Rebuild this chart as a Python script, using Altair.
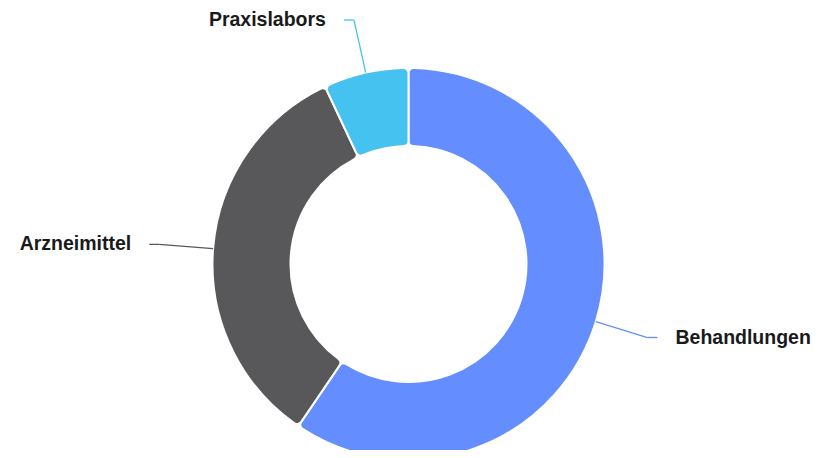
import altair as alt
import pandas as pd

categories = ["Behandlungen", "Arzneimittel", "Praxislabors"]
values = [59.5, 33.5, 7.0]
order = [1, 2, 3]
colors = ["#648EFF", "#58585A", "#45C2F0"]

df = pd.DataFrame({"cat": categories, "val": values, "ord": order})

W, H = 806, 442
CX, CY = 400.5, 256
R_OUT, R_IN, R_LINE, HOOK, GAP = 196, 118, 250, 10, 18

color = alt.Color("cat:N", scale=alt.Scale(domain=categories, range=colors), legend=None)

arcs = alt.Chart(df).mark_arc(
    outerRadius=R_OUT, innerRadius=R_IN, cornerRadius=5, stroke="white", strokeWidth=2
).encode(
    theta=alt.Theta("val:Q", stack=True),
    order=alt.Order("ord:Q"),
    color=color,
    x=alt.value(CX),
    y=alt.value(CY),
)

xs = alt.Scale(domain=[-CX, W - CX], nice=False, zero=False)
ys = alt.Scale(domain=[-(H - CY), CY], nice=False, zero=False)

base = alt.Chart(df).transform_joinaggregate(
    total="sum(val)"
).transform_window(
    cum="sum(val)", sort=[alt.SortField("ord")], frame=[None, 0]
).transform_calculate(
    a="(datum.cum - datum.val/2) / datum.total * 2 * PI",
).transform_calculate(
    s="sin(datum.a)", c="cos(datum.a)",
).transform_calculate(
    side="datum.s < 0 ? -1 : 1",
    x0=f"{R_OUT} * datum.s", y0=f"{R_OUT} * datum.c",
    x1=f"{R_LINE} * datum.s", y1=f"{R_LINE} * datum.c",
).transform_calculate(
    x2=f"datum.x1 + {HOOK} * datum.side",
    xt=f"datum.x1 + ({HOOK} + {GAP}) * datum.side",
)

seg1 = base.mark_rule(strokeWidth=1.3).encode(
    x=alt.X("x0:Q", scale=xs, axis=None), y=alt.Y("y0:Q", scale=ys, axis=None),
    x2="x1:Q", y2="y1:Q", color=color,
)
seg2 = base.mark_rule(strokeWidth=1.3).encode(
    x=alt.X("x1:Q", scale=xs, axis=None), y=alt.Y("y1:Q", scale=ys, axis=None),
    x2="x2:Q", y2="y1:Q", color=color,
)
txt_style = dict(font="Liberation Sans", fontSize=19.5, fontWeight="bold", color="#1a1a1a", baseline="middle")
left_txt = base.transform_filter("datum.side < 0").mark_text(align="right", **txt_style).encode(
    x=alt.X("xt:Q", scale=xs, axis=None), y=alt.Y("y1:Q", scale=ys, axis=None), text="cat:N",
)
right_txt = base.transform_filter("datum.side > 0").mark_text(align="left", **txt_style).encode(
    x=alt.X("xt:Q", scale=xs, axis=None), y=alt.Y("y1:Q", scale=ys, axis=None), text="cat:N",
)

chart = alt.layer(arcs, seg1, seg2, left_txt, right_txt).properties(
    width=W, height=H, autosize=alt.AutoSizeParams(type="none"), padding=0
).configure_view(stroke=None)

chart.save("out.html", embed_options={"renderer": "svg", "actions": False})
